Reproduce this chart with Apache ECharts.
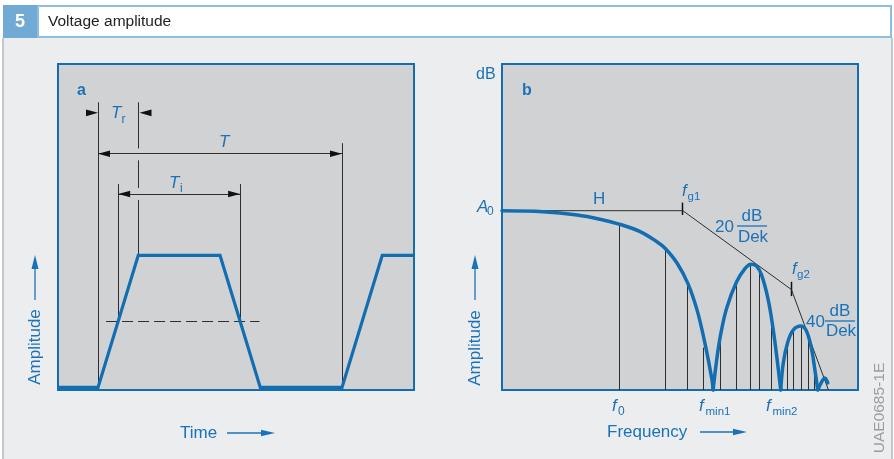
<!DOCTYPE html>
<html>
<head>
<meta charset="utf-8">
<script src="https://cdn.jsdelivr.net/npm/echarts@6/dist/echarts.min.js"></script>
<style>
html, body { margin: 0; padding: 0; background: #ffffff; }
#chart { width: 894px; height: 459px; }
</style>
</head>
<body>
<div id="chart"></div>
<script>
// ---- panel a: trapezoid pulse train (time in T/10, amplitude 0..1) ----
const pulseTime = [-1.64, 0, 1.65, 5.0, 6.65, 10, 11.65, 12.95];
const pulseAmp  = [0, 0, 1, 1, 0, 0, 1, 1];

// guide lines [t1, a1, t2, a2]
const guidesA = [
    [0, 2.16, 0, 0],
    [1.65, 2.16, 1.65, 1.81],
    [1.65, 1.72, 1.65, 1.51],
    [1.65, 1.42, 1.65, 1.0],
    [0.825, 1.54, 0.825, 0.5],
    [5.825, 1.54, 5.825, 0.5],
    [10, 1.85, 10, 0],
    [0, 1.77, 10, 1.77],        // T
    [0.825, 1.465, 5.825, 1.465] // Ti
];
const thresholdLine = [[0.33, 0.5, 6.62, 0.5]];
// arrow tips [t, a, direction]
const arrowsA = [
    [0, 1.77, -1], [10, 1.77, 1],
    [0.825, 1.465, -1], [5.825, 1.465, 1],
    [0, 2.08, 1], [1.7, 2.08, -1]
];

// ---- panel b: amplitude spectrum (frequency 0..100, level dB 0..100) ----
const lobe1Freq  = [0, 11.5, 21.1, 27.5, 32.9, 38.8, 43.5, 45.8, 49.2, 52.2, 54.8, 57.0, 59.0, 59.3];
const lobe1Level = [55, 54.7, 53.7, 52.4, 50.9, 48.6, 45.5, 43.5, 38.9, 32.7, 24.5, 14.4, 3.1, 0];
const lobe2Freq  = [59.3, 60.3, 61.5, 63.1, 65.9, 68.3, 69.9, 71.5, 72.9, 74.8, 76.2, 77.3, 78.3];
const lobe2Level = [0, 9.2, 17.5, 25.1, 33.2, 37.3, 38.6, 38.0, 35.3, 27.6, 18.4, 9.2, 0];
const lobe3Freq  = [78.3, 79.0, 80.3, 81.8, 84.0, 85.6, 87.0, 87.9, 88.7];
const lobe3Level = [0, 8.2, 14.8, 18.4, 19.6, 17.9, 12.3, 6.1, 0];
const lobe4Freq  = [88.7, 89.8, 90.7, 91.5];
const lobe4Level = [0, 2.5, 3.7, 2.2];

const lineFreq  = [32.9, 45.8, 52.2, 56.7, 61.5, 66.0, 69.9, 72.2, 75.6, 80.1, 82.0, 84.0, 86.0, 87.9];
const lineLevel = [50.9, 43.5, 32.7, 13.0, 17.5, 33.2, 38.6, 36.8, 23.0, 14.3, 18.5, 19.6, 16.4, 6.1];

const asymFreq  = [0, 50.8, 81.3, 91.7];
const asymLevel = [55, 55, 30.8, 0];
// corner ticks [f, low, high]
const cornerTicks = [[50.8, 53.7, 57.5], [81.3, 28.8, 33.2]];

const BLUE = '#136db1';
const TEXT_BLUE = '#1c72b8';
const INK = '#2e2e2e';
const FONT = '"Liberation Sans", Arial, sans-serif';

const zip = (a, b) => a.map((v, i) => [v, b[i]]);
const crisp = v => Math.round(v - 0.5) + 0.5;

function segItem(color, dash) {
    return (params, api) => {
        const p = api.coord([api.value(0), api.value(1)]);
        const q = api.coord([api.value(2), api.value(3)]);
        const vert = Math.abs(p[0] - q[0]) < 0.1, horiz = Math.abs(p[1] - q[1]) < 0.1;
        return {
            type: 'line',
            shape: {
                x1: vert ? crisp(p[0]) : p[0], y1: horiz ? crisp(p[1]) : p[1],
                x2: vert ? crisp(q[0]) : q[0], y2: horiz ? crisp(q[1]) : q[1]
            },
            style: { stroke: color, lineWidth: 1, lineDash: dash || null }
        };
    };
}

function arrowItem(params, api) {
    const p = api.coord([api.value(0), api.value(1)]);
    const d = api.value(2);
    return {
        type: 'polygon',
        shape: { points: [[p[0], p[1]], [p[0] - d * 12, p[1] - 3.3], [p[0] - d * 12, p[1] + 3.3]] },
        style: { fill: '#111' }
    };
}

function lobe(freq, level) {
    return {
        type: 'line', xAxisIndex: 1, yAxisIndex: 1, data: zip(freq, level),
        smooth: 0.35, symbol: 'none', z: 5,
        lineStyle: { color: BLUE, width: 3.5, cap: 'round' }
    };
}

function txt(x, y, text, size, o = {}) {
    return {
        type: 'text', x, y, rotation: o.rotation || 0, z: 100,
        style: {
            text, fill: o.color || TEXT_BLUE, fontSize: size, fontFamily: FONT,
            fontStyle: o.italic ? 'italic' : 'normal', fontWeight: o.bold ? 'bold' : 'normal',
            textAlign: o.align || 'left', textVerticalAlign: 'middle',
            align: o.align || 'left', verticalAlign: 'middle'
        }
    };
}

function arrowHead(tx, ty, dir, len, half) {
    // dir: 'up' | 'right'
    const pts = dir === 'up'
        ? [[tx, ty], [tx - half, ty + len], [tx + half, ty + len]]
        : [[tx, ty], [tx - len, ty - half], [tx - len, ty + half]];
    return { type: 'polygon', z: 100, shape: { points: pts }, style: { fill: TEXT_BLUE } };
}

function hline(x1, x2, y, color, w) {
    return { type: 'line', z: 100, shape: { x1, y1: y, x2, y2: y }, style: { stroke: color, lineWidth: w || 1.3 } };
}
function vline(x, y1, y2, color, w) {
    return { type: 'line', z: 100, shape: { x1: x, y1, x2: x, y2 }, style: { stroke: color, lineWidth: w || 1.3 } };
}

const graphics = [
    { type: 'rect', z: -10, shape: { x: 2, y: 38, width: 891, height: 421 }, style: { fill: '#ecedee' } },
    { type: 'rect', z: -9, shape: { x: 2, y: 38, width: 2, height: 421 }, style: { fill: '#c6c7c8' } },
    { type: 'rect', z: -9, shape: { x: 891, y: 38, width: 2, height: 421 }, style: { fill: '#c6c7c8' } },
    { type: 'rect', z: -8, shape: { x: 3, y: 5, width: 34, height: 33 }, style: { fill: '#72aad6' } },
    { type: 'rect', z: -8, shape: { x: 38, y: 6, width: 853, height: 31 }, style: { fill: '#ffffff', stroke: '#8dbde1', lineWidth: 2 } },
    txt(20, 22, '5', 18, { bold: true, color: '#ffffff', align: 'center' }),
    txt(48, 22, 'Voltage amplitude', 15.5, { color: '#222222' }),

    // panel a labels
    txt(77, 91, 'a', 16, { bold: true }),
    txt(111, 113, 'T', 17, { italic: true }),
    txt(121.5, 120, 'r', 12),
    txt(219, 142, 'T', 17, { italic: true }),
    txt(169, 183, 'T', 17, { italic: true }),
    txt(180, 189, 'i', 12),
    txt(35, 347, 'Amplitude', 17, { rotation: Math.PI / 2, align: 'center' }),
    vline(35, 268, 300, TEXT_BLUE, 1.3),
    arrowHead(35, 255, 'up', 14, 3.5),
    txt(180, 433, 'Time', 17),
    hline(227, 262, 433, TEXT_BLUE, 1.3),
    arrowHead(275, 433, 'right', 14, 3.2),

    // panel b labels
    txt(476, 75, 'dB', 16),
    txt(522, 91, 'b', 16, { bold: true }),
    txt(477, 207, 'A', 17, { italic: true }),
    txt(487, 211.5, '0', 12),
    txt(593, 199, 'H', 17),
    txt(682, 191, 'f', 17, { italic: true }),
    txt(687.5, 196.5, 'g1', 11.5),
    txt(792, 269, 'f', 17, { italic: true }),
    txt(797, 275, 'g2', 11.5),
    txt(715, 227, '20', 17),
    txt(752, 216.5, 'dB', 17, { align: 'center' }),
    hline(737, 767, 226, TEXT_BLUE, 1.3),
    txt(753, 237, 'Dek', 17, { align: 'center' }),
    txt(806, 322.5, '40', 17),
    txt(840, 311, 'dB', 17, { align: 'center' }),
    hline(825, 855, 321, TEXT_BLUE, 1.3),
    txt(841, 331.5, 'Dek', 17, { align: 'center' }),
    txt(475, 348, 'Amplitude', 17, { rotation: Math.PI / 2, align: 'center' }),
    vline(475, 268, 300, TEXT_BLUE, 1.3),
    arrowHead(475, 255, 'up', 14, 3.5),
    txt(612, 406, 'f', 17, { italic: true }),
    txt(618, 411.5, '0', 12),
    txt(699, 406, 'f', 17, { italic: true }),
    txt(705.5, 411.5, 'min1', 11.5),
    txt(766, 406, 'f', 17, { italic: true }),
    txt(772.5, 411.5, 'min2', 11.5),
    txt(607, 432, 'Frequency', 17),
    hline(700, 734, 432, TEXT_BLUE, 1.3),
    arrowHead(747, 432, 'right', 14, 3.2),
    txt(880, 408, 'UAE0685-1E', 15.5, { rotation: Math.PI / 2, align: 'center', color: '#9c9d9e' })
];

const chart = echarts.init(document.getElementById('chart'), null, { renderer: 'canvas' });

chart.setOption({
    animation: false,
    grid: [
        { left: 58, top: 64, width: 356, height: 326, show: true, backgroundColor: '#d1d2d4', borderColor: BLUE, borderWidth: 2 },
        { left: 502, top: 64, width: 356, height: 326, show: true, backgroundColor: '#d1d2d4', borderColor: BLUE, borderWidth: 2 }
    ],
    xAxis: [
        { type: 'value', gridIndex: 0, min: -1.64, max: 12.95, show: false },
        { type: 'value', gridIndex: 1, min: 0, max: 100, show: false }
    ],
    yAxis: [
        { type: 'value', gridIndex: 0, min: -0.02, max: 2.45, show: false },
        { type: 'value', gridIndex: 1, min: 0, max: 100, show: false }
    ],
    graphic: graphics,
    series: [
        {
            type: 'custom', xAxisIndex: 0, yAxisIndex: 0, data: guidesA, z: 2, silent: true,
            encode: { x: [0, 2], y: [1, 3] }, renderItem: segItem(INK)
        },
        {
            type: 'custom', xAxisIndex: 0, yAxisIndex: 0, data: thresholdLine, z: 2, silent: true,
            encode: { x: [0, 2], y: [1, 3] }, renderItem: segItem(INK, [11, 5])
        },
        {
            type: 'custom', xAxisIndex: 0, yAxisIndex: 0, data: arrowsA, z: 3, silent: true,
            encode: { x: 0, y: 1 }, renderItem: arrowItem
        },
        {
            type: 'line', xAxisIndex: 0, yAxisIndex: 0, data: zip(pulseTime, pulseAmp),
            symbol: 'none', z: 5, lineStyle: { color: BLUE, width: 3.2, join: 'miter' }
        },
        {
            type: 'custom', xAxisIndex: 1, yAxisIndex: 1, data: zip(lineFreq, lineLevel), z: 2, silent: true,
            encode: { x: 0, y: 1 },
            renderItem: (params, api) => {
                const top = api.coord([api.value(0), api.value(1)]);
                const bot = api.coord([api.value(0), 0]);
                return { type: 'line', shape: { x1: crisp(top[0]), y1: top[1], x2: crisp(bot[0]), y2: bot[1] }, style: { stroke: INK, lineWidth: 1 } };
            }
        },
        {
            type: 'line', xAxisIndex: 1, yAxisIndex: 1, data: zip(asymFreq, asymLevel),
            symbol: 'none', z: 3, lineStyle: { color: INK, width: 1 }
        },
        {
            type: 'custom', xAxisIndex: 1, yAxisIndex: 1, data: cornerTicks, z: 3, silent: true,
            encode: { x: 0, y: [1, 2] },
            renderItem: (params, api) => {
                const a = api.coord([api.value(0), api.value(1)]);
                const b = api.coord([api.value(0), api.value(2)]);
                return { type: 'line', shape: { x1: crisp(a[0]), y1: a[1], x2: crisp(b[0]), y2: b[1] }, style: { stroke: '#111', lineWidth: 1.5 } };
            }
        },
        lobe(lobe1Freq, lobe1Level),
        lobe(lobe2Freq, lobe2Level),
        lobe(lobe3Freq, lobe3Level),
        lobe(lobe4Freq, lobe4Level)
    ]
});
</script>
</body>
</html>
